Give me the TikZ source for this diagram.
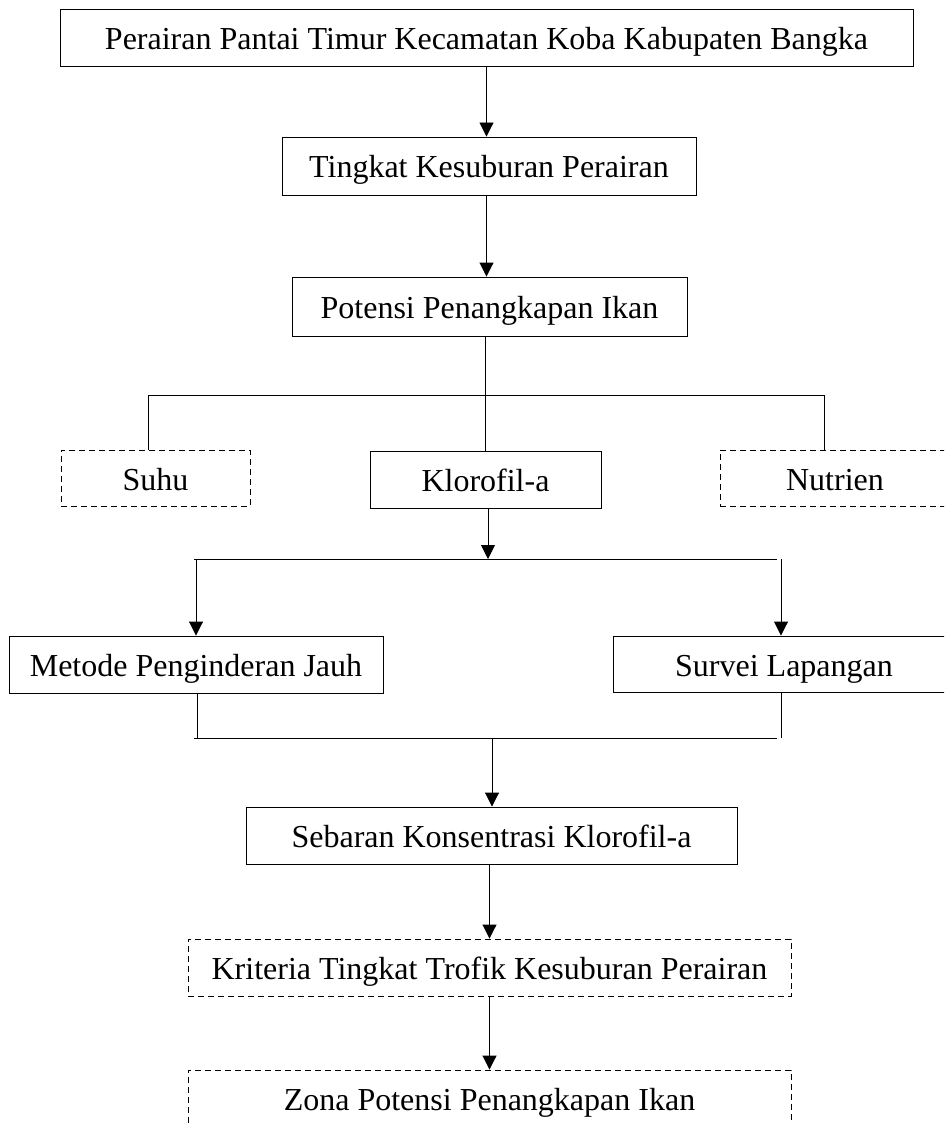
\documentclass[tikz,border=0pt]{standalone}
\usepackage{fontspec}
\setmainfont{Liberation Serif}
\usetikzlibrary{arrows.meta}
\begin{document}
\begin{tikzpicture}[x=1pt,y=-1pt,
    kotak/.style={draw, line width=0.9pt, inner sep=0pt, text height=24pt, text depth=0pt, font=\fontsize{32}{38}\selectfont},
    kotakputus/.style={kotak, dash pattern=on 6pt off 4pt},
    garis/.style={line width=0.9pt},
    panah/.style={garis, -{Triangle[length=14pt,width=14pt]}}]
    \useasboundingbox (0,0) rectangle (944,1123);
    \clip (0,0) rectangle (944,1123);
    % kotak utama
    \node[kotak, minimum width=853pt, minimum height=57pt] at (486.5,37.5) (pantai) {Perairan Pantai Timur Kecamatan Koba Kabupaten Bangka};
    \node[kotak, minimum width=414pt, minimum height=58pt] at (489,166) (subur) {Tingkat Kesuburan Perairan};
    \node[kotak, minimum width=395pt, minimum height=59pt] at (489.5,306.5) (potensi) {Potensi Penangkapan Ikan};
    % parameter
    \node[kotakputus, minimum width=189pt, minimum height=56pt] at (155.5,478) (suhu) {Suhu};
    \node[kotak, minimum width=231pt, minimum height=57pt] at (485.5,479.5) (klorofil) {Klorofil-a};
    \node[kotakputus, minimum width=230pt, minimum height=56pt] at (835,478) (nutrien) {Nutrien};
    % metode
    \node[kotak, minimum width=374pt, minimum height=57pt] at (196,664.5) (metode) {Metode Penginderan Jauh};
    \node[kotak, minimum width=342pt, minimum height=56pt] at (784,664) (survei) {Survei Lapangan};
    \node[kotak, minimum width=491pt, minimum height=57pt] at (491.5,835.5) (sebaran) {Sebaran Konsentrasi Klorofil-a};
    \node[kotakputus, minimum width=603pt, minimum height=57pt] at (489.5,967.5) (kriteria) {Kriteria Tingkat Trofik Kesuburan Perairan};
    \node[kotakputus, minimum width=603pt, minimum height=57pt] at (489.5,1098.5) (zona) {Zona Potensi Penangkapan Ikan};
    % titik cabang
    \coordinate (cabangA) at (148,395);
    \coordinate (cabangB) at (824,395);
    \coordinate (bagi) at (488,559);
    \coordinate (bagiA) at (194,559);
    \coordinate (bagiB) at (777,559);
    \coordinate (kiri) at (196,559);
    \coordinate (kanan) at (781,559);
    \coordinate (gabungA) at (194,738);
    \coordinate (gabungB) at (777,738);
    \coordinate (gabung) at (492,738);
    % penghubung
    \draw[panah] (pantai.south) -- (pantai.south |- subur.north);
    \draw[panah] (subur.south -| pantai.south) -- (pantai.south |- potensi.north);
    \draw[garis] (klorofil.north |- potensi.south) -- (klorofil.north);
    \draw[garis] (cabangA) -- (cabangB);
    \draw[garis] (cabangA) -- (cabangA |- suhu.north);
    \draw[garis] (cabangB) -- (cabangB |- nutrien.north);
    \draw[panah] (bagi |- klorofil.south) -- (bagi);
    \draw[garis] (bagiA) -- (bagiB);
    \draw[panah] (kiri) -- (kiri |- metode.north);
    \draw[panah] (kanan) -- (kanan |- survei.north);
    \draw[garis] (metode.south -| 197,0) -- (197,738);
    \draw[garis] (kanan |- survei.south) -- (kanan |- gabung);
    \draw[garis] (gabungA) -- (gabungB);
    \draw[panah] (gabung) -- (gabung |- sebaran.north);
    \draw[panah] (sebaran.south -| kriteria.north) -- (kriteria.north);
    \draw[panah] (kriteria.south) -- (zona.north);
\end{tikzpicture}
\end{document}
